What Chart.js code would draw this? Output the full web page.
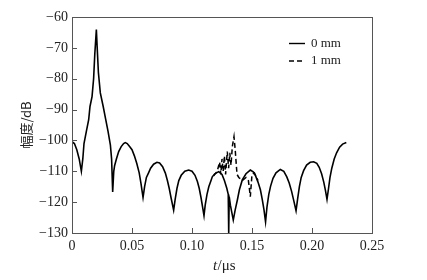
<!DOCTYPE html>
<html>
<head>
<meta charset="utf-8">
<script src="https://cdn.jsdelivr.net/npm/chart.js@4/dist/chart.umd.min.js"></script>
<style>
html,body{margin:0;padding:0;background:#fff;}
#c{display:block;}
</style>
</head>
<body>
<canvas id="c" width="427" height="280"></canvas>
<script>
// ---- data ----
const time0 = [0.000,0.002,0.004,0.006,0.0078,0.009,0.010,0.012,0.0139,0.0150,0.0167,0.018,0.019,0.0203,0.0210,0.022,0.0236,0.026,0.028,0.030,0.032,0.033,0.0339,0.0348,0.0355,0.037,0.0389,0.041,0.043,0.0444,0.046,0.048,0.050,0.052,0.054,0.056,0.0575,0.0592,0.0605,0.062,0.0638,0.0655,0.068,0.0708,0.073,0.0755,0.0778,0.0795,0.081,0.0825,0.0847,0.086,0.0875,0.089,0.091,0.094,0.0972,0.100,0.1025,0.1045,0.106,0.1075,0.1088,0.110,0.111,0.1125,0.114,0.116,0.1169,0.119,0.1222,0.125,0.127,0.129,0.1302,0.1306,0.1310,0.132,0.1344,0.136,0.1378,0.1395,0.1419,0.145,0.1486,0.151,0.153,0.155,0.157,0.1585,0.160,0.1613,0.1625,0.164,0.1655,0.1675,0.170,0.1736,0.1765,0.179,0.181,0.183,0.1848,0.1867,0.188,0.1895,0.191,0.193,0.1955,0.1985,0.2014,0.204,0.206,0.208,0.2098,0.2112,0.2125,0.2138,0.215,0.2165,0.2185,0.2205,0.223,0.2255,0.2286];
const amp0 = [-100.4,-101,-103,-106,-110,-106,-101,-97,-93.3,-89,-85.8,-80,-72,-64.1,-70,-78,-84.6,-89,-93,-97,-101.5,-106,-116.7,-110,-108.2,-106,-103.6,-102,-101,-100.7,-101,-102,-103,-105,-107.5,-110.5,-114,-118.5,-115,-112,-110.5,-109,-107.7,-107.1,-107.3,-108.5,-110.6,-113,-115.5,-118.5,-122.6,-119,-115.5,-113,-111.3,-110,-109.6,-110,-111.3,-113.3,-115.5,-118.5,-121.5,-124.4,-121,-117.5,-115,-112.8,-111.8,-110.8,-110.1,-111,-113,-115.5,-117.5,-130,-118.2,-121,-125.8,-122.5,-119.3,-116,-112.8,-110.8,-109.6,-110.2,-111.5,-113.5,-116,-119,-122.5,-126.4,-121.5,-117.5,-114.8,-112.3,-110.5,-109.4,-110,-111.8,-113.8,-116.5,-119.5,-122.8,-119,-115,-112,-109.8,-108,-107.1,-106.9,-107.4,-108.7,-110.8,-113.5,-116.2,-119.1,-115.5,-112,-109,-106,-104,-102.2,-101.2,-100.7];
const time1 = [0.118,0.121,0.123,0.124,0.125,0.126,0.127,0.128,0.1294,0.1305,0.1315,0.1325,0.1336,0.135,0.136,0.1375,0.139,0.142,0.145,0.147,0.1486,0.150,0.152,0.155];
const amp1 = [-111.5,-110,-107,-111,-106,-110,-105,-111,-103.6,-109,-104,-108,-102,-98.8,-103,-111,-112,-113,-112,-113,-118.2,-111,-110.5,-113];
const seriesNames = ['0 mm', '1 mm'];
const xTicks = [0, 0.05, 0.10, 0.15, 0.20, 0.25];
const yTicks = [-130, -120, -110, -100, -90, -80, -70, -60];

const pts = (xs, ys) => xs.map((x, i) => ({x: x, y: ys[i]}));
const SERIF = '"Liberation Serif", "DejaVu Serif", serif';

const decor = {
  id: 'decor',
  afterDraw(chart) {
    const ctx = chart.ctx, a = chart.chartArea;
    const xs = chart.scales.x, ys = chart.scales.y;
    ctx.save();
    // frame
    ctx.strokeStyle = '#555';
    ctx.lineWidth = 1;
    ctx.strokeRect(Math.round(a.left) + 0.5, Math.round(a.top) + 0.5, Math.round(a.right - a.left), Math.round(a.bottom - a.top));
    // inward ticks
    ctx.beginPath();
    xTicks.forEach(v => {
      const px = Math.round(xs.getPixelForValue(v)) + 0.5;
      ctx.moveTo(px, a.bottom); ctx.lineTo(px, a.bottom - 5);
    });
    yTicks.forEach(v => {
      const py = Math.round(ys.getPixelForValue(v)) + 0.5;
      ctx.moveTo(a.left, py); ctx.lineTo(a.left + 5, py);
    });
    ctx.stroke();
    // x title: t/μs
    ctx.fillStyle = '#222';
    ctx.textBaseline = 'middle';
    const cx = (a.left + a.right) / 2 + 2, cy = 266;
    ctx.font = 'italic 15px ' + SERIF;
    const wT = ctx.measureText('t').width;
    ctx.font = '15px ' + SERIF;
    const wR = ctx.measureText('/μs').width;
    let sx = cx - (wT + wR) / 2;
    ctx.font = 'italic 15px ' + SERIF;
    ctx.textAlign = 'left';
    ctx.fillText('t', sx, cy);
    ctx.font = '15px ' + SERIF;
    ctx.fillText('/μs', sx + wT + 0.5, cy);
    // y title
    ctx.save();
    ctx.translate(26, (a.top + a.bottom) / 2);
    ctx.rotate(-Math.PI / 2);
    ctx.textAlign = 'center';
    ctx.font = '13px "Noto Sans CJK SC", sans-serif';
    ctx.fillText('幅度/dB', 0, 0);
    ctx.restore();
    // legend
    chart.data.datasets.forEach((ds, i) => {
      const y = 43.5 + i * 17.5;
      ctx.beginPath();
      ctx.strokeStyle = '#000';
      ctx.lineWidth = 1.4;
      ctx.setLineDash(ds.borderDash || []);
      ctx.moveTo(289, y); ctx.lineTo(305, y);
      ctx.stroke();
      ctx.setLineDash([]);
      ctx.fillStyle = '#222';
      ctx.textAlign = 'left';
      ctx.font = '13px ' + SERIF;
      ctx.fillText(ds.label, 311, y);
    });
    ctx.restore();
  }
};

new Chart(document.getElementById('c'), {
  type: 'line',
  data: {
    datasets: [
      {label: seriesNames[0], data: pts(time0, amp0), borderColor: '#000', borderWidth: 1.6, pointRadius: 0, tension: 0, fill: false},
      {label: seriesNames[1], data: pts(time1, amp1), borderColor: '#000', borderWidth: 1.5, borderDash: [5, 3], pointRadius: 0, tension: 0, fill: false}
    ]
  },
  options: {
    responsive: false,
    animation: false,
    devicePixelRatio: 1,
    layout: {padding: {left: 0, top: 17, right: 55, bottom: 0}},
    plugins: {legend: {display: false}, tooltip: {enabled: false}},
    scales: {
      x: {
        type: 'linear', min: 0, max: 0.25,
        afterFit(s) { s.height = 47; },
        afterBuildTicks(s) { s.ticks = xTicks.map(v => ({value: v})); },
        grid: {display: false, drawTicks: false},
        border: {display: false},
        ticks: {
          padding: 5, color: '#222', font: {family: SERIF, size: 14},
          maxRotation: 0,
          callback: v => v === 0 ? '0' : Number(v).toFixed(2)
        }
      },
      y: {
        type: 'linear', min: -130, max: -60,
        afterFit(s) { s.width = 72; },
        afterBuildTicks(s) { s.ticks = yTicks.map(v => ({value: v})); },
        grid: {display: false, drawTicks: false},
        border: {display: false},
        ticks: {
          padding: 4, color: '#222', font: {family: SERIF, size: 14},
          callback: v => String(v).replace('-', '\u2212')
        }
      }
    }
  },
  plugins: [decor]
});
</script>
</body>
</html>
